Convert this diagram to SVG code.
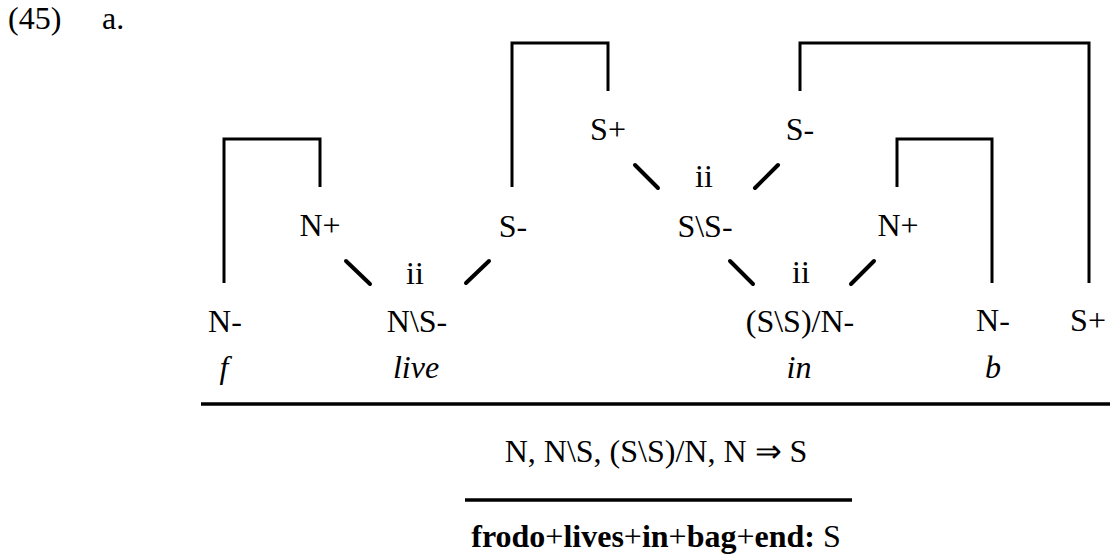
<svg xmlns="http://www.w3.org/2000/svg" width="1110" height="556" viewBox="0 0 1110 556">
<style>
text { font-family: 'Liberation Serif', 'Times New Roman', serif; font-size: 32px; fill: #000; }
.c { text-anchor: middle; }
.it { font-style: italic; }
.b { font-weight: bold; }
.br { fill: none; stroke: #000; stroke-width: 3; }
.dg { stroke: #000; stroke-width: 4; stroke-linecap: round; }
.rule { stroke: #000; stroke-width: 3.5; }
</style>
<rect width="1110" height="556" fill="#fff"/>
<text x="8" y="29">(45)</text>
<text x="102" y="29">a.</text>

<g id="connectors">
  <polyline class="br" points="224,283 224,139 320,139 320,187"/>
  <polyline class="br" points="512,187 512,43 608,43 608,91"/>
  <polyline class="br" points="800,91 800,43 1089,43 1089,283"/>
  <polyline class="br" points="897,187 897,139 992,139 992,283"/>
  <line class="dg" x1="346" y1="261" x2="370" y2="284"/>
  <line class="dg" x1="466" y1="283" x2="489" y2="261"/>
  <line class="dg" x1="635" y1="165" x2="658" y2="188"/>
  <line class="dg" x1="755" y1="188" x2="778" y2="165"/>
  <line class="dg" x1="730" y1="261" x2="753" y2="284"/>
  <line class="dg" x1="851" y1="284" x2="874" y2="261"/>
</g>

<g id="n_Nminus_f"><text class="c" x="225" y="332">N-</text></g>
<g id="n_Nplus_l"><text class="c" x="320" y="236">N+</text></g>
<g id="n_ii_live"><text class="c" x="415" y="284">ii</text></g>
<g id="n_NS"><text class="c" x="417" y="332">N\S-</text></g>
<g id="n_Sminus_l"><text class="c" x="513" y="237">S-</text></g>
<g id="n_Splus_top"><text class="c" x="608" y="140">S+</text></g>
<g id="n_ii_mid"><text class="c" x="704" y="187">ii</text></g>
<g id="n_SS"><text class="c" x="705" y="237">S\S-</text></g>
<g id="n_Sminus_top"><text class="c" x="800" y="140">S-</text></g>
<g id="n_ii_in"><text class="c" x="801" y="283">ii</text></g>
<g id="n_SSN"><text class="c" x="800" y="332">(S\S)/N-</text></g>
<g id="n_Nplus_r"><text class="c" x="898" y="236">N+</text></g>
<g id="n_Nminus_b"><text class="c" x="993" y="331">N-</text></g>
<g id="n_Splus_r"><text class="c" x="1088" y="331">S+</text></g>

<g id="words">
  <text class="c it" x="224" y="378">f</text>
  <text class="c it" x="416" y="378">live</text>
  <text class="c it" x="799" y="378">in</text>
  <text class="c it" x="993" y="378">b</text>
</g>

<line class="rule" x1="201" y1="404" x2="1110" y2="404"/>
<text class="c" x="656" y="462">N, N\S, (S\S)/N, N ⇒ S</text>
<line class="rule" x1="465" y1="500" x2="852" y2="500"/>
<text class="c" x="656" y="547"><tspan class="b">frodo</tspan>+<tspan class="b">lives</tspan>+<tspan class="b">in</tspan>+<tspan class="b">bag</tspan>+<tspan class="b">end</tspan><tspan class="b">:</tspan> S</text>
</svg>
